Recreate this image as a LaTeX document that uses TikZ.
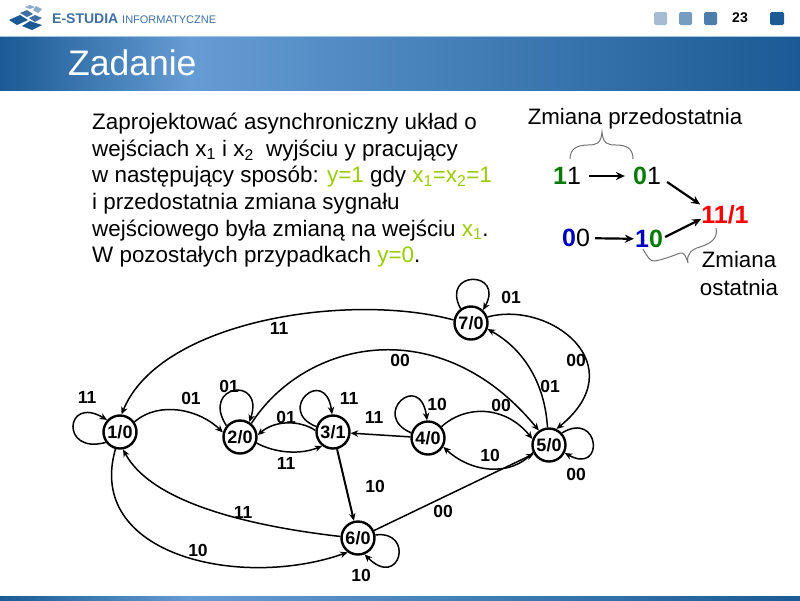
\documentclass[tikz,border=0pt]{standalone}
\usepackage{fontspec}
\setmainfont{Liberation Sans}
\usepackage{xcolor}
\usetikzlibrary{arrows.meta}
\definecolor{bandDark}{HTML}{1B5A94}
\definecolor{bandLight}{HTML}{659CD3}
\definecolor{lime}{HTML}{99CC00}
\definecolor{bitGreen}{HTML}{087A08}
\definecolor{bitBlue}{HTML}{0000C0}
\definecolor{logoText}{HTML}{3F6FA3}
\newcommand{\hi}[1]{\textcolor{lime}{#1}}
\newcommand{\gbit}[1]{\textcolor{bitGreen}{\textbf{#1}}}
\newcommand{\bbit}[1]{\textcolor{bitBlue}{\textbf{#1}}}

\begin{document}
\begin{tikzpicture}[x=1pt, y=-1pt,
      state/.style = {shape=circle, draw, line width=2.4pt, minimum size=33pt,
        inner sep=0pt, font=\bfseries\fontsize{18}{18}\selectfont},
      edge/.style = {-{Stealth[length=7.5pt,width=6.5pt]}, line width=1.5pt},
      edgelabel/.style = {font=\bfseries\fontsize{17.5}{18}\selectfont, inner sep=0pt},
      bigarrow/.style = {-{Stealth[length=9pt,width=8pt]}, line width=2.2pt},
      bits/.style = {font=\fontsize{25}{25}\selectfont, inner sep=1pt},
      note/.style = {font=\fontsize{22.3}{28}\selectfont, inner sep=0pt, align=center},
      bracket/.style = {draw=black!55, line width=1pt},
      tab/.style = {rounded corners=1.5pt}]
    \useasboundingbox (0,0) rectangle (800,600);
    \fill[white] (0,0) rectangle (800,600);

    \fill[bandLight!60] (0,36) rectangle (800,37);
    \shade[left color=bandDark, right color=bandLight] (0,37) rectangle (190,90);
    \shade[left color=bandLight, right color=bandDark] (190,37) rectangle (800,90);
    \shade[left color=bandDark, right color=bandLight] (0,596) rectangle (190,600);
    \shade[left color=bandLight, right color=bandDark] (190,596) rectangle (800,600);

    \fill[bandDark] (9,20) -- (20,15) -- (28,20) -- (17,25) -- cycle;
    \fill[bandDark] (22,26) -- (30,21) -- (42,25) -- (32,30) -- cycle;
    \fill[logoText] (20,13) -- (27,10) -- (33,14) -- (27,17) -- cycle;
    \fill[logoText] (29,18) -- (35,15) -- (42,18) -- (35,22) -- cycle;
    \fill[logoText!60] (25,7) -- (30,5) -- (35,7) -- (30,9) -- cycle;
    \fill[logoText!60] (33,10) -- (36,6) -- (42,9) -- (38,13) -- cycle;
    \node[inner sep=0pt, anchor=west, text=logoText, font=\bfseries\fontsize{14}{14}\selectfont] (logoname) at (52,19) {E-STUDIA};
    \node[inner sep=0pt, anchor=west, text=logoText, font=\fontsize{11}{14}\selectfont] (logosub) at (122,19.5) {INFORMATYCZNE};

    \fill[tab, bandDark!40] (654,12) rectangle (667,25);
    \fill[tab, bandDark!60] (679,12) rectangle (692,25);
    \fill[tab, bandDark!78] (704,12) rectangle (717,25);
    \fill[tab, bandDark] (770,12) rectangle (784,25);
    \node[inner sep=0pt, font=\bfseries\fontsize{14}{14}\selectfont] (pagenum) at (740,18) {23};
    \node[inner sep=0pt, anchor=west, text=white, font=\fontsize{35.5}{38}\selectfont] (title) at (68,63) {Zadanie};

    \node[inner sep=0pt, anchor=north west, align=left, font=\fontsize{22.4}{26.6}\selectfont] (task) at (92,113) {%
      Zaprojektować asynchroniczny układ o\\
      wejściach x\textsubscript{1} i x\textsubscript{2}\ \ wyjściu y pracujący\\
      w następujący sposób: \hi{y=1} gdy \hi{x\textsubscript{1}=x\textsubscript{2}=1}\\
      i przedostatnia zmiana sygnału\\
      wejściowego była zmianą na wejściu \hi{x\textsubscript{1}}.\\
      W pozostałych przypadkach \hi{y=0}.};

    \node[note] (przed) at (635,119) {Zmiana przedostatnia};
    \node[note] (ostat) at (739,274) {Zmiana\\ ostatnia};
    \node[bits] (b11) at (567,176) {\gbit{1}1};
    \node[bits] (b01) at (647,176) {\gbit{0}1};
    \node[bits] (b00) at (576,238) {\bbit{0}0};
    \node[bits] (b10) at (649,239) {\bbit{1}\gbit{0}};
    \node[bits, text=red, font=\bfseries\fontsize{25}{25}\selectfont] (b111) at (725,215) {11/1};
    \draw[bigarrow, shorten <=7pt, shorten >=7pt] (b11) -- (b01);
    \draw[bigarrow, shorten <=4pt] (b00) -- (b10);
    \draw[bigarrow] ([shift={(5,6)}]b01.east) -- (b111.north west);
    \draw[bigarrow] ([shift={(1,-2)}]b10.east) -- ([shift={(1,4)}]b111.west);
    \draw[bracket] (570,159) .. controls (570,148) and (578,145) .. (588,145)
      .. controls (596,145) and (601,144) .. (602,132)
      .. controls (603,144) and (608,145) .. (616,145)
      .. controls (626,145) and (633,148) .. (633,159);
    \draw[bracket] (643,249) .. controls (647,256) and (650,262) .. (655,261)
      .. controls (665,259) and (675,255) .. (680,253)
      .. controls (684,252) and (686,256) .. (688,263)
      .. controls (686,254) and (692,249) .. (700,247)
      .. controls (712,243) and (718,238) .. (716,228);

    \node[state] (n1) at (120,432) {1/0};
    \node[state] (n2) at (240,437) {2/0};
    \node[state] (n3) at (333,432) {3/1};
    \node[state] (n4) at (428,438) {4/0};
    \node[state] (n5) at (549,445) {5/0};
    \node[state] (n6) at (358,538) {6/0};
    \node[state] (n7) at (471,323) {7/0};

    \draw[edge] (n1.216) .. controls (60,455) and (65,395) .. (n1.137);
    \draw[edge] (n2.140) .. controls (200,385) and (265,375) .. (n2.58);
    \draw[edge] (n3.162) .. controls (275,410) and (325,365) .. (n3.93);
    \draw[edge] (n4.163) .. controls (370,415) and (420,370) .. (n4.93);
    \draw[edge] (n5.43) .. controls (600,410) and (605,475) .. (n5.-27);
    \draw[edge] (n6.10) .. controls (415,530) and (400,590) .. (n6.-68);
    \draw[edge] (n7.126) .. controls (440,270) and (505,270) .. (n7.47);

    \draw[edge] (n1.35) .. controls (160,400) and (200,410) .. (n2.165);
    \draw[edge] (n2.-20) .. controls (275,453) and (300,455) .. (n3.232);
    \draw[edge] (n3.175) .. controls (300,420) and (275,420) .. (n2.6);
    \draw[edge] (n2.50) .. controls (305,340) and (440,310) .. (n5.125);
    \draw[edge] (n7.170) .. controls (350,292) and (160,320) .. (n1.85);
    \draw[edge] (n5.95) .. controls (545,385) and (525,350) .. (n7.-20);
    \draw[edge] (n7.20) .. controls (550,300) and (635,365) .. (n5.65);
    \draw[edge] (n4.40) .. controls (465,405) and (505,405) .. (n5.160);
    \draw[edge] (n5.-155) .. controls (510,478) and (470,472) .. (n4.-30);
    \draw[edge] (n4) -- (n3);
    \draw[edge, line width=2pt] (n3) -- (n6);
    \draw[edge] (n6.25) -- (n5.-150);
    \draw[edge] (n6.175) .. controls (240,525) and (150,500) .. (n1.-80);
    \draw[edge] (n1.-105) .. controls (85,555) and (240,590) .. (n6.234);

    \foreach \lname/\lx/\ly/\ltext in {a/87/397/11, b/191/398/01, c/229/386/01,
        d/286/417/01, e/349/398/11, f/286/463/11, g/374/417/11, h/437/404/10,
        i/501/405/00, j/490/455/10, k/400/360/00, l/279/328/11, m/511/297/01,
        o/550/386/01, p/576/360/00, q/576/474/00, r/375/486/10, s/443/511/00,
        t/243/512/11, u/198/550/10, v/361/575/10}
      \node[edgelabel] (lab\lname) at (\lx,\ly) {\ltext};
  \end{tikzpicture}
\end{document}
